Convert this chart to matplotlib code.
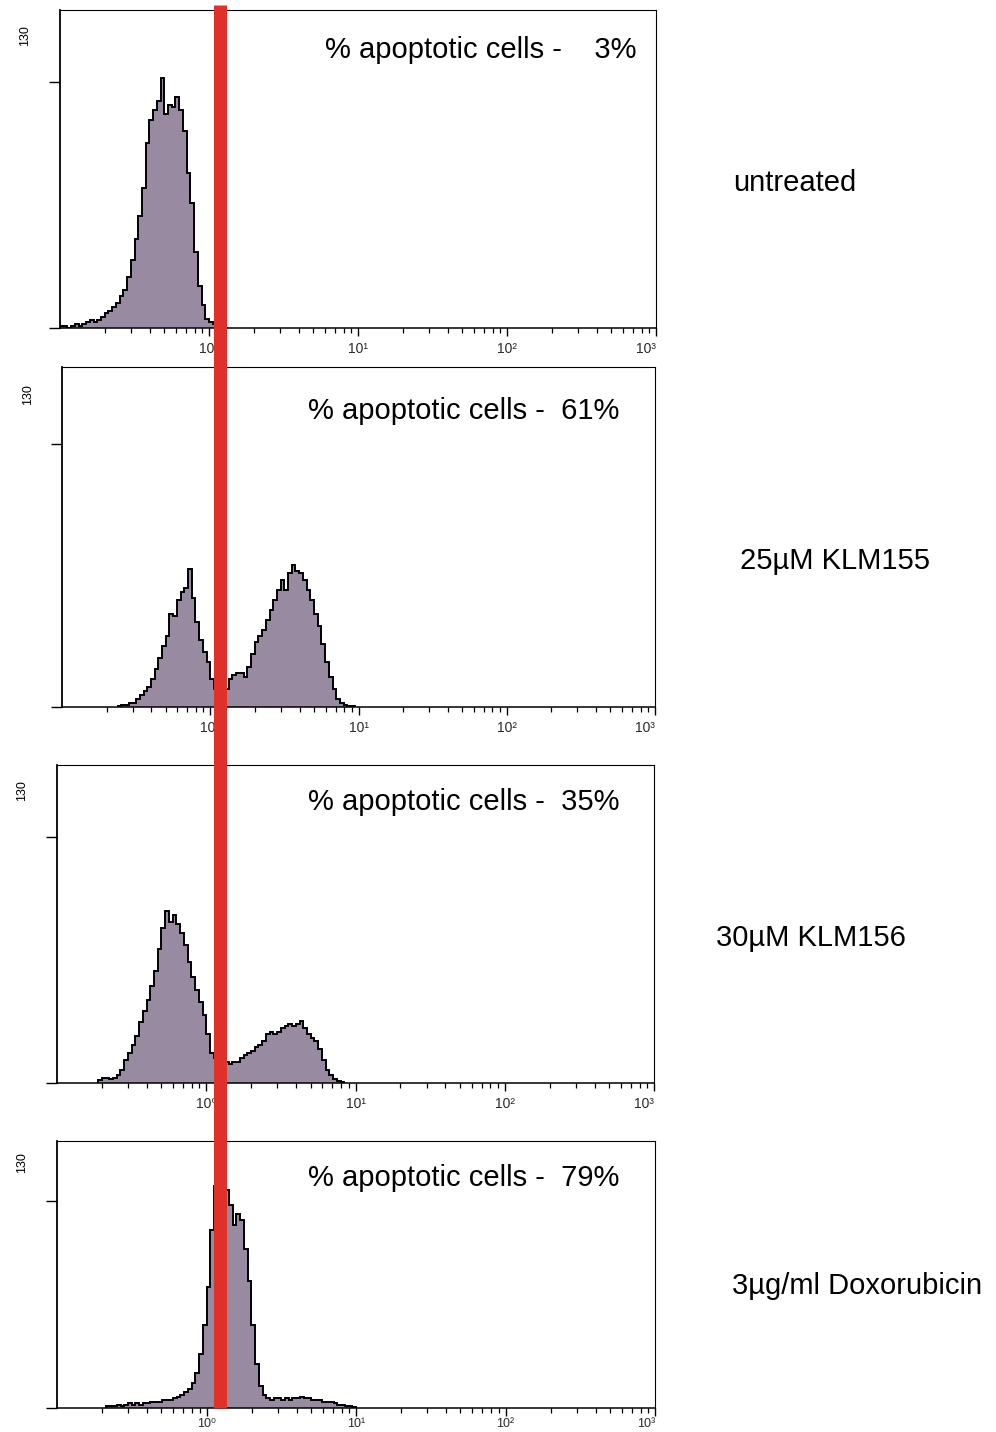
import numpy as np
import matplotlib
matplotlib.use("Agg")
import matplotlib.pyplot as plt
from matplotlib.lines import Line2D
from matplotlib.ticker import LogLocator, NullFormatter

plt.rcParams['font.family'] = ['Liberation Sans', 'DejaVu Sans']

# ---- data: annexin-V fluorescence histograms (log scale, 0.025-decade channels) ----
bin_width = 0.025          # width of a channel in decades
y_max = 168                # top of the count axis
y_tick = 130               # labelled count tick
gate = 1.185               # fluorescence gate separating apoptotic cells

conditions = ["untreated", "25µM KLM155", "30µM KLM156", "3µg/ml Doxorubicin"]
apoptotic_pct = ["3%", "61%", "35%", "79%"]

untreated_start = -1.0
untreated_counts = [1, 1, 0, 1, 2, 1, 2, 3, 4, 3,
                    4, 6, 8, 9, 11, 13, 17, 20, 27, 36,
                    47, 59, 74, 98, 110, 115, 120, 132, 113, 118,
                    117, 122, 115, 104, 82, 66, 40, 22, 12, 5,
                    3, 2, 1, 1, 0]

klm155_start = -0.625
klm155_counts = [0.5, 1, 1, 2, 2, 4, 6, 8, 10, 14,
                 19, 24, 30, 35, 46, 45, 53, 57, 59, 68,
                 54, 42, 33, 27, 22, 14, 9, 7, 7, 9,
                 14, 16, 17, 17, 15, 20, 26, 32, 35, 38,
                 43, 48, 53, 58, 63, 58, 66, 70, 67, 66,
                 63, 58, 53, 46, 40, 31, 22, 15, 9, 4,
                 2, 1, 0.5, 0.3]

klm156_start = -0.725
klm156_counts = [1.5, 2.5, 2.5, 2, 2.5, 4, 7, 12, 16, 20,
                 25, 32, 38, 44, 51, 59, 71, 82, 91, 85,
                 89, 84, 79, 73, 64, 56, 49, 43, 36, 26,
                 16, 13, 12, 12, 11, 10, 11, 11, 13, 15,
                 16, 17, 19, 20, 22, 26, 27, 26, 27, 29,
                 30, 31, 30, 31, 33, 29, 26, 24, 22, 18,
                 12, 7, 4, 2, 1, 0.5]

doxo_start = -0.675
doxo_counts = [1, 1, 1, 2, 1, 2, 3, 2, 3, 2,
               3, 3, 4, 4, 4, 5, 5, 5, 6, 7,
               8, 10, 12, 16, 22, 34, 52, 76, 112, 140,
               150, 145, 137, 128, 115, 122, 118, 100, 80, 52,
               28, 14, 8, 6, 5, 6, 6, 5, 6, 5,
               6, 6, 7, 6, 6, 5, 5, 5, 4, 4,
               4, 3, 2, 2, 1, 1, 0.5]

starts = [untreated_start, klm155_start, klm156_start, doxo_start]
counts = [untreated_counts, klm155_counts, klm156_counts, doxo_counts]

x_ticks = [1, 10, 100, 1000]
x_tick_labels = ["10⁰", "10¹", "10²", "10³"]

# ---- layout (pixels of a 996 x 1432 canvas) ----
W, H = 996, 1432
panel_px = [(60, 656, 10, 328), (62, 655, 367, 707),
            (57, 654, 765, 1083), (57, 655, 1141, 1408)]
label_pad = [4, 4, 4, 1]
label_size = [10, 10, 10, 9]
text_x = [0.445, 0.415, 0.42, 0.42]
text_y = [0.874, 0.87, 0.884, 0.86]
cond_px = [(733, 183), (740, 561), (716, 938), (732, 1286)]

fill_color = "#988aa0"
red = "#e0302a"

fig = plt.figure(figsize=(W / 100, H / 100), dpi=100)
fig.patch.set_facecolor("white")

axes = []
for k, (l, r, t, b) in enumerate(panel_px):
    ax = fig.add_axes([l / W, 1 - b / H, (r - l) / W, (b - t) / H])
    axes.append(ax)
    c = np.asarray(counts[k], dtype=float)
    edges = 10 ** (starts[k] + bin_width * np.arange(len(c) + 1))
    ax.stairs(c, edges, fill=True, color=fill_color, zorder=2)
    ax.stairs(c, edges, color="black", lw=1.4, zorder=3)

    ax.set_xscale("log")
    ax.set_xlim(0.1, 1000)
    ax.set_ylim(0, y_max)

    ax.set_xticks(x_ticks)
    ax.set_xticklabels(x_tick_labels)
    ax.xaxis.set_minor_locator(LogLocator(base=10, subs=np.arange(2, 10)))
    ax.xaxis.set_minor_formatter(NullFormatter())
    ax.tick_params(axis="x", which="major", direction="out", length=6,
                   width=1.0, labelsize=label_size[k], pad=label_pad[k],
                   labelcolor="#2a2a2a")
    ax.tick_params(axis="x", which="minor", direction="out", length=3.5,
                   width=0.9)
    ax.get_xticklabels()[-1].set_ha("right")

    ax.set_yticks([0, y_tick])
    ax.set_yticklabels([])
    ax.tick_params(axis="y", direction="out", length=8, width=1.0)
    ax.text(-0.058, 0.92, str(y_tick), transform=ax.transAxes, rotation=90,
            ha="center", va="center", fontsize=9)

    for side in ("top", "right"):
        ax.spines[side].set_linewidth(0.8)
    ax.spines["left"].set_linewidth(1.3)
    ax.spines["bottom"].set_linewidth(1.1)

    sep = "    " if k == 0 else "  "
    ax.text(text_x[k], text_y[k], "% apoptotic cells -" + sep + apoptotic_pct[k],
            transform=ax.transAxes, ha="left", va="center", fontsize=21)

    cx, cy = cond_px[k]
    fig.text(cx / W, 1 - cy / H, conditions[k], ha="left", va="center",
             fontsize=21)

# gate line running through all panels, placed from the first panel's scale
x_disp = axes[0].transData.transform((gate, 1))[0]
x_fig = fig.transFigure.inverted().transform((x_disp, 0))[0]
y_bottom = axes[-1].get_position().y0
y_top = 1 - 5 / H
fig.add_artist(Line2D([x_fig, x_fig], [y_bottom, y_top], transform=fig.transFigure,
                      color=red, lw=9.4, solid_capstyle="butt", zorder=10))

fig.savefig("out.png", dpi=100, facecolor="white")
